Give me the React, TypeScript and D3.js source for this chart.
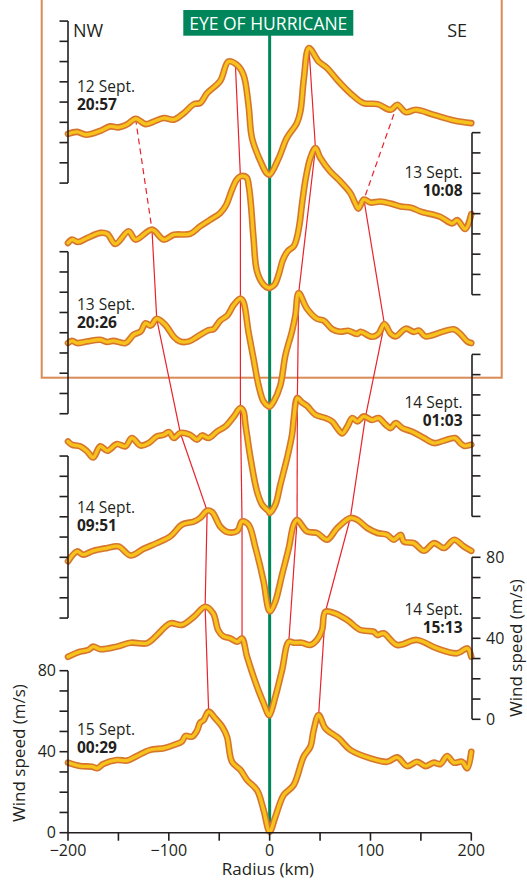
import React from "react";
import * as d3 from "d3";

// ---------- DATA ----------
// Each profile: [radius (km), wind speed (m/s)]
const sept12_2057: [number, number][] = [
  [-200, 24.3], [-191, 25.3], [-182, 23.9], [-168, 25.8], [-158, 28], [-150, 27.5], [-141, 29.1],
  [-133, 31.8], [-123, 29.1], [-115, 30.4], [-105, 32.1], [-95, 31.3], [-85, 34.6], [-75, 39],
  [-69, 39.5], [-62, 44.4], [-49, 50.5], [-41, 60], [-33, 58.6], [-26, 53.5], [-21, 38.7],
  [-17.5, 22.2], [-9, 10.7], [-3, 4.9], [0, 4.1], [9, 12.3], [17, 22.2], [27, 29.6], [30.5, 35.4],
  [34, 51.9], [39, 66.7], [48.6, 60], [57, 56.8], [67, 51], [80, 44.4], [93, 39.5], [107, 39],
  [120, 36.2], [126.5, 38.7], [135, 35], [145, 36.2], [163, 33.7], [183, 30.9], [200, 29.6],
];
const sept13_1008: [number, number][] = [
  [-200, 25.5], [-196, 27.2], [-190, 26], [-181, 28], [-168, 30.5], [-161, 30], [-153, 25],
  [-140, 31.3], [-133, 27.2], [-116.7, 32.1], [-105, 27.2], [-95, 29.6], [-79, 30], [-69, 33.7],
  [-59, 37], [-49, 40.3], [-43, 44.4], [-38, 51], [-33, 56.5], [-29, 58.4], [-23, 58],
  [-20.5, 53], [-18.5, 44], [-16, 28], [-12.5, 11.5], [-6, 4.9], [-1, 3.3], [0, 3.3], [5, 5],
  [9, 10], [13, 17], [18, 21.5], [24, 24], [27, 28], [30, 36], [32, 44.4], [36, 58],
  [40.4, 67.5], [45.4, 72.4], [50.3, 67.5], [60, 60.9], [70, 56], [80, 50.2], [85, 45],
  [88, 42.5], [93.5, 47], [100, 45.5], [110, 46], [120, 45], [130, 43.5], [140, 43], [150, 41],
  [169, 38.5], [181, 35.2], [186, 36.8], [194, 32.4], [200, 39.8],
];
const sept13_2026: [number, number][] = [
  [-200, 34.9], [-196, 36], [-191, 34.9], [-181, 35.7], [-168, 36.5], [-161, 35.4], [-155, 36],
  [-143, 34.9], [-135, 39], [-128, 40.6], [-123, 44.7], [-118, 43.5], [-112, 46.9],
  [-103.5, 43.9], [-95, 38], [-89, 35.7], [-80, 35.7], [-72, 38], [-60.5, 41.3], [-55.6, 41.8],
  [-49, 46], [-42, 48.5], [-36, 53.5], [-29, 56.9], [-26, 55.2], [-21, 40.4], [-16, 27.2],
  [-11, 14], [-6, 6], [-1, 3.6], [0, 3.5], [4, 6], [10.6, 14], [15.6, 28.8], [22, 40.4],
  [25.5, 48.5], [28.8, 59.6], [37, 51.9], [47, 46.9], [53.6, 46], [62, 41.8], [70, 40.5],
  [78, 41], [87, 39.4], [90, 40.5], [101.6, 38], [108, 39.5], [113.8, 44.3], [120, 39.5],
  [125, 38.2], [135, 42], [143, 40.4], [148, 41.1], [154.5, 38.2], [171, 40.4], [182.6, 41.7],
  [189, 39.5], [196, 35.7], [200, 34.9],
];
const sept14_0103: [number, number][] = [
  [-200, 37], [-196, 35.4], [-188, 34.6], [-181, 32.1], [-175, 29.1], [-168, 34.6], [-161, 32.4],
  [-151.5, 35.7], [-143, 34.6], [-136.6, 38.7], [-128, 35], [-120, 36.2], [-112, 39.5],
  [-105, 40.3], [-100, 41.7], [-95, 38.7], [-88.6, 41.2], [-79, 40.3], [-72, 37.9], [-67, 40],
  [-60.5, 38.7], [-52, 42], [-44, 44.4], [-36, 49], [-29, 53.5], [-26, 51.9], [-24, 45.3],
  [-19, 28.8], [-12.5, 12.3], [-7.5, 5.8], [-1, 2.5], [0, 1.7], [5.7, 5.8], [10.6, 15.7],
  [17.3, 28.8], [22.2, 40.3], [24, 48.6], [27.5, 58.5], [32, 56.3], [37, 54.6], [45.4, 50.2],
  [55.3, 48.6], [62, 46.9], [67, 43.6], [72, 41], [77, 44.3], [82, 48.6], [87, 46.9],
  [93.3, 49.4], [101.6, 47.6], [108, 48.6], [115, 45.3], [120, 43.6], [125, 46.1],
  [131.6, 43.6], [141, 41.9], [153, 38.7], [163, 36.2], [173, 37.4], [184, 38.7], [189, 36.2],
  [193, 34.8], [200, 35.4],
];
const sept14_0951: [number, number][] = [
  [-200, 28], [-191, 32.9], [-185, 31.3], [-175, 33.2], [-161, 34.6], [-150, 35.4], [-138, 30.9],
  [-125, 34.2], [-112, 37], [-98.5, 40.3], [-87, 46.1], [-75, 47.7], [-69, 49.4], [-62, 53],
  [-57, 52.3], [-49, 45.2], [-42, 42.5], [-32, 43.1], [-27.4, 47.7], [-21, 46.1], [-14, 34.6],
  [-6, 18], [-1, 4.1], [0.7, 3.3], [5.7, 8.2], [12.3, 21.4], [19, 34.6], [23.8, 46.1],
  [27.2, 48.5], [37, 42.8], [47, 42], [57, 38.7], [67, 44.4], [80, 49.4], [87, 48.5],
  [97, 44.4], [107, 42], [116.5, 41.1], [123, 38.7], [130, 41.1], [133, 37.8], [143, 37],
  [153, 33.2], [163, 37], [173, 34.6], [183, 38.7], [192.5, 35.4], [200, 33.2],
];
const sept14_1513: [number, number][] = [
  [-200, 30.9], [-188, 33.4], [-180, 34.2], [-175, 35.9], [-168, 34.6], [-151.5, 35.9],
  [-138, 37.8], [-122, 37.5], [-116.7, 39.2], [-111.7, 41.6], [-98.5, 47.4], [-87, 46.6],
  [-75, 50.7], [-64, 55.6], [-56, 52.3], [-51, 44], [-46, 41], [-39, 40], [-32, 38.3],
  [-27.4, 40], [-22.4, 30.9], [-12.5, 16.1], [-6, 7.9], [-1, 2.1], [0, 2.1], [5.7, 11.2],
  [12.3, 24.3], [19, 38.3], [24, 37.8], [32, 37.8], [40.4, 36.7], [47, 39.2], [52, 44.1],
  [55.3, 53.1], [65, 52.3], [77, 49], [90, 44.1], [103, 43.3], [107, 41.6], [113, 42.5],
  [126.5, 36.7], [146, 39.2], [166, 35], [186, 32.6], [196, 35], [200, 30.9],
];
const sept15_0029: [number, number][] = [
  [-200, 34.6], [-188, 32.9], [-176, 32.6], [-171, 31.8], [-165, 33.9], [-151.5, 35.9],
  [-141.5, 35.6], [-131.6, 37.9], [-118.4, 40.9], [-105, 41.7], [-95, 43.3], [-87, 45],
  [-83.6, 47.8], [-77, 47.4], [-72, 50.4], [-69, 54.3], [-65.5, 55.6], [-60.5, 59.8],
  [-54, 56.5], [-47, 52.3], [-42.3, 47.4], [-37.3, 35], [-29, 31], [-22.4, 26], [-12.5, 21],
  [-6, 11.2], [0, 0.5], [5.7, 7.9], [13.9, 18.6], [23.8, 23.5], [33.7, 37.5], [40.4, 42.5],
  [43.7, 50.7], [48.6, 58.1], [55.3, 51.5], [68.5, 46.6], [80, 40.9], [100, 36.7], [116.5, 35],
  [126.5, 37.2], [136.4, 32.9], [146.3, 35], [154.5, 32.9], [162.8, 34.6], [169.4, 33.9],
  [176, 37.9], [182.6, 34.6], [191, 35], [196, 31.8], [200, 40],
];

const profiles = [sept12_2057, sept13_1008, sept13_2026, sept14_0103, sept14_0951, sept14_1513, sept15_0029];
const profileDates = ["12 Sept.", "13 Sept.", "13 Sept.", "14 Sept.", "14 Sept.", "14 Sept.", "15 Sept."];
const profileTimes = ["20:57", "10:08", "20:26", "01:03", "09:51", "15:13", "00:29"];
// vertical offset of each profile's zero line (m/s units above bottom axis zero)
const profileOffsets = [320.8, 265.7, 206.9, 156.2, 106, 56, 0];
// side on which each profile's scale bar sits
const axisSides = ["left", "right", "left", "right", "left", "right", "left"];

// feature-tracking lines: [profile index, radius km]
const trackOuterNW: [number, number][] = [[0, -133], [1, -116.7], [2, -112], [3, -88.6], [4, -62], [5, -64], [6, -60.5]];
const trackInnerNW: [number, number][] = [[0, -34], [1, -29], [2, -29], [3, -29], [4, -27.4], [5, -27.4]];
const trackInnerSE: [number, number][] = [[0, 39], [1, 45.4], [2, 28.8], [3, 27.5], [4, 27.2], [5, 19]];
const trackOuterSE: [number, number][] = [[0, 126.5], [1, 93.5], [2, 113.8], [3, 95], [4, 80], [5, 55.3], [6, 48.6]];
const tracks = [trackOuterNW, trackInnerNW, trackInnerSE, trackOuterSE];

const radiusTicks = [-200, -150, -100, -50, 0, 50, 100, 150, 200];
const radiusLabels = [-200, -100, 0, 100, 200];
const speedTicks = [0, 10, 20, 30, 40, 50, 60, 70, 80];
const speedLabels = [0, 40, 80];

// ---------- LAYOUT ----------
const W = 527, H = 880;
const x = d3.scaleLinear().domain([-200, 200]).range([68, 471.3]);
const y = d3.scaleLinear().domain([0, 80]).range([832.7, 670.7]);
const FONT = "'Open Sans', 'Noto Sans', sans-serif";
const TXT = "#231f20";
const RED = "#e8232b";
const GREEN = "#00865a";
const labelBaselines = [92, 178.3, 310, 408.3, 513.3, 615, 735];

function speedAt(p: [number, number][], r: number): number {
  for (let i = 0; i < p.length - 1; i++) {
    const [r0, v0] = p[i], [r1, v1] = p[i + 1];
    if (r >= r0 && r <= r1) return v0 + ((v1 - v0) * (r - r0)) / (r1 - r0);
  }
  return p[p.length - 1][1];
}

const line = d3
  .line<[number, number]>()
  .x((d) => x(d[0]))
  .y((d) => d[1])
  .curve(d3.curveCatmullRom.alpha(0.5));

export default function App() {
  const x0 = x(0);
  return (
    <svg width={W} height={H} style={{ position: "absolute", left: 0, top: 0, display: "block", background: "#fff" }} fontFamily={FONT}>
      {/* highlighted box */}
      <rect x={41.7} y={-5} width={460} height={382.7} fill="none" stroke="#d98a55" strokeWidth={2} />

      {/* eye line */}
      <line x1={x0} x2={x0} y1={35} y2={y(0)} stroke={GREEN} strokeWidth={3} />

      {/* tracking lines */}
      {tracks.map((t, ti) =>
        t.slice(0, -1).map((pt, i) => {
          const nx = t[i + 1];
          const ya = y(profileOffsets[pt[0]] + speedAt(profiles[pt[0]], pt[1]));
          const yb = y(profileOffsets[nx[0]] + speedAt(profiles[nx[0]], nx[1]));
          const dashed = i === 0 && (ti === 0 || ti === 3);
          return (
            <line key={`${ti}-${i}`} x1={x(pt[1])} y1={ya} x2={x(nx[1])} y2={yb} stroke={RED} strokeWidth={1.2}
              strokeDasharray={dashed ? "6,4" : undefined} />
          );
        })
      )}

      {/* profiles */}
      {profiles.map((p, i) => {
        const pts = p.map((d) => [d[0], y(profileOffsets[i] + d[1])] as [number, number]);
        const dPath = line(pts) || "";
        return (
          <g key={i}>
            <path d={dPath} fill="none" stroke="#d6762e" strokeWidth={6.6} strokeLinejoin="round" strokeLinecap="round" />
            <path d={dPath} fill="none" stroke="#f7c21b" strokeWidth={3.4} strokeLinejoin="round" strokeLinecap="round" />
          </g>
        );
      })}

      {/* per-profile scale bars */}
      {profiles.map((_, i) => {
        const left = axisSides[i] === "left";
        const ax = left ? x(-200) : x(200) + 0.7;
        const dir = left ? -1 : 1;
        const off = profileOffsets[i];
        const showLabels = i === 5 || i === 6;
        return (
          <g key={`ax${i}`} stroke="#231f20" strokeWidth={1.6}>
            <line x1={ax} x2={ax} y1={y(off)} y2={y(off + 80)} />
            {speedTicks.map((t) => (
              <line key={t} x1={ax} x2={ax + dir * 8.5} y1={y(off + t)} y2={y(off + t)} />
            ))}
            {showLabels &&
              speedLabels.map((t) => (
                <text key={`l${t}`} x={ax + dir * (left ? 12 : 14)} y={y(off + t)} dy="0.36em" stroke="none" fill={TXT}
                  fontSize={16} textAnchor={left ? "end" : "start"}>
                  {t}
                </text>
              ))}
          </g>
        );
      })}

      {/* bottom radius axis */}
      <g stroke="#231f20" strokeWidth={1.6}>
        <line x1={x(-200)} x2={x(200)} y1={y(0)} y2={y(0)} />
        {radiusTicks.map((t) => (
          <line key={t} x1={x(t)} x2={x(t)} y1={y(0)} y2={y(0) + 8} />
        ))}
      </g>
      {radiusLabels.map((t) => (
        <text key={t} x={x(t)} y={856} fill={TXT} fontSize={16} textAnchor="middle">
          {t < 0 ? "\u2212" + Math.abs(t) : String(t)}
        </text>
      ))}
      <text x={268} y={875} fill={TXT} fontSize={17} textAnchor="middle">Radius (km)</text>
      <text transform={`translate(25,753) rotate(-90)`} fill={TXT} fontSize={17} textAnchor="middle">Wind speed (m/s)</text>
      <text transform={`translate(522,648) rotate(-90)`} fill={TXT} fontSize={17} textAnchor="middle">Wind speed (m/s)</text>

      {/* profile labels */}
      {profiles.map((_, i) => {
        const left = axisSides[i] === "left";
        const tx = left ? 77 : 462.5;
        const baseY = labelBaselines[i];
        return (
          <g key={`lab${i}`} fill={TXT} fontSize={15.5} textAnchor={left ? "start" : "end"}>
            <text x={tx} y={baseY}>{profileDates[i]}</text>
            <text x={tx} y={baseY + 18} fontWeight="bold">{profileTimes[i]}</text>
          </g>
        );
      })}

      {/* direction labels */}
      <text x={73} y={36.5} fill={TXT} fontSize={18}>NW</text>
      <text x={467} y={36.5} fill={TXT} fontSize={18} textAnchor="end">SE</text>

      {/* eye label */}
      <rect x={183.3} y={10} width={170} height={25.7} fill={GREEN} />
      <text x={268.3} y={29.5} fill="#fff" fontSize={17.5} textAnchor="middle">EYE OF HURRICANE</text>
    </svg>
  );
}
